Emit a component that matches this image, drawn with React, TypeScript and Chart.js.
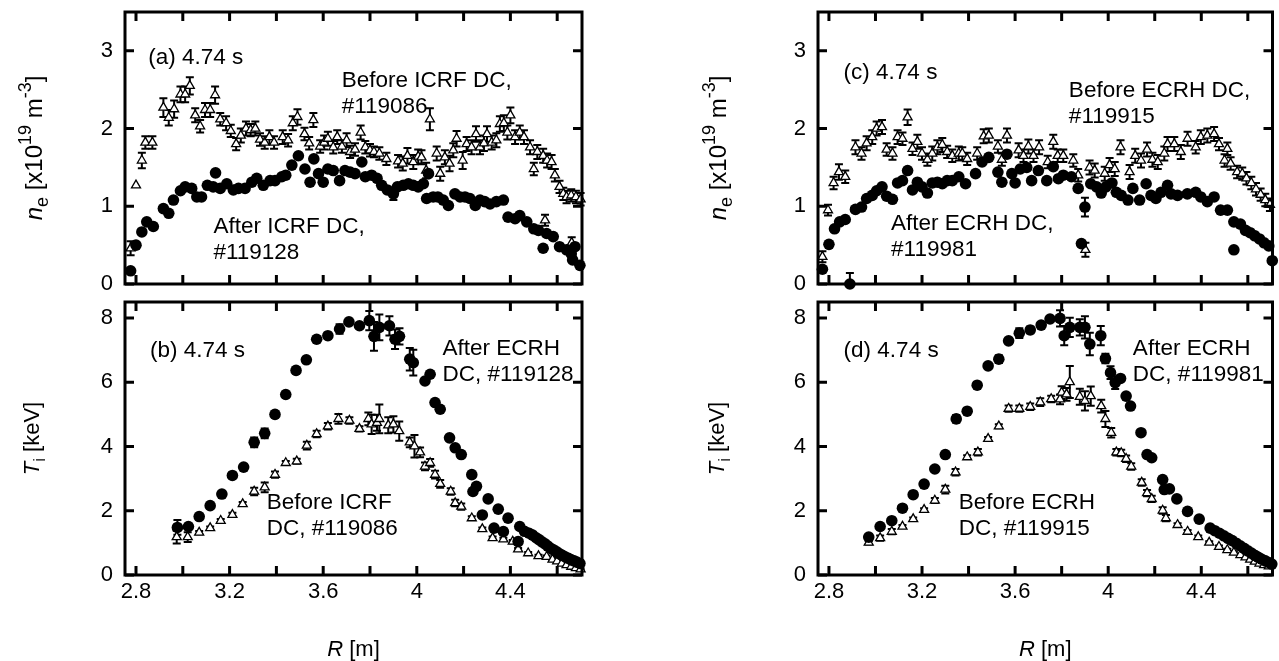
import React, { useEffect, useRef } from 'react';
import { Chart, registerables } from 'chart.js';

Chart.register(...registerables);

const FONT = '"Liberation Sans", Arial, Helvetica, sans-serif';

// ---------- axes ----------
const R_MIN = 2.753;
const R_MAX = 4.706;
const R_TICKS = [2.8, 3.0, 3.2, 3.4, 3.6, 3.8, 4.0, 4.2, 4.4, 4.6];
const R_TICK_LABELS = ['2.8', '', '3.2', '', '3.6', '', '4', '', '4.4', ''];
const NE_MAX = 3.5;
const NE_TICKS = [0, 1, 2, 3];
const NE_TICK_LABELS = ['0', '1', '2', '3'];
const TI_MAX = 8.5;
const TI_TICKS = [0, 2, 4, 6, 8];
const TI_TICK_LABELS = ['0', '2', '4', '6', '8'];

// ---------- data: [R (m), value, error] ----------
// (a) n_e, before ICRF DC #119086 (open triangles)
const A_BEFORE: number[][] = [
  [2.777, 0.46, 0.09], [2.8, 1.27, 0], [2.825, 1.59, 0.1], [2.84, 1.82, 0.08], [2.87, 1.82, 0.08],
  [2.917, 2.27, 0.12], [2.94, 2.14, 0.1], [2.963, 2.25, 0.11], [2.99, 2.44, 0.1], [3.01, 2.44, 0.1],
  [3.03, 2.55, 0.11], [3.053, 2.17, 0.09], [3.074, 2.03, 0.08], [3.095, 2.24, 0.09], [3.117, 2.24, 0.09],
  [3.138, 2.43, 0.11], [3.16, 2.12, 0.08], [3.185, 2.07, 0.09], [3.205, 1.97, 0.08], [3.228, 1.8, 0.08],
  [3.248, 1.91, 0.09], [3.27, 2.0, 0.09], [3.29, 1.98, 0.08], [3.31, 2.0, 0.09], [3.33, 1.86, 0.08],
  [3.35, 1.82, 0.08], [3.37, 1.89, 0.09], [3.39, 1.82, 0.08], [3.427, 1.89, 0.09], [3.45, 1.85, 0.08],
  [3.47, 2.07, 0.09], [3.49, 2.15, 0.1], [3.52, 1.93, 0.08], [3.54, 1.81, 0.08], [3.558, 2.11, 0.09],
  [3.587, 1.77, 0.08], [3.604, 1.82, 0.09], [3.62, 1.87, 0.09], [3.643, 1.76, 0.08], [3.66, 1.89, 0.09],
  [3.68, 1.77, 0.08], [3.7, 1.85, 0.09], [3.715, 1.7, 0.08], [3.736, 1.73, 0.08], [3.76, 1.95, 0.09],
  [3.78, 1.76, 0.08], [3.8, 1.72, 0.08], [3.817, 1.7, 0.07], [3.84, 1.68, 0.08], [3.87, 1.61, 0.08],
  [3.92, 1.58, 0.08], [3.94, 1.55, 0.09], [3.96, 1.65, 0.1], [3.985, 1.57, 0.09], [4.006, 1.64, 0.09],
  [4.02, 1.63, 0.09], [4.04, 1.46, 0.1], [4.056, 2.12, 0.14], [4.085, 1.68, 0.09], [4.1, 1.42, 0.09],
  [4.12, 1.63, 0.09], [4.14, 1.55, 0.1], [4.156, 1.72, 0.09], [4.17, 1.87, 0.1], [4.196, 1.59, 0.11],
  [4.213, 1.8, 0.09], [4.234, 1.76, 0.09], [4.253, 1.93, 0.1], [4.27, 1.76, 0.09], [4.287, 1.81, 0.1],
  [4.3, 1.93, 0.1], [4.32, 1.82, 0.09], [4.34, 1.85, 0.09], [4.355, 2.06, 0.1], [4.372, 2.07, 0.1],
  [4.387, 1.95, 0.09], [4.4, 2.17, 0.1], [4.42, 1.89, 0.09], [4.44, 1.95, 0.09], [4.458, 1.89, 0.09],
  [4.484, 1.76, 0.09], [4.5, 1.48, 0.08], [4.515, 1.7, 0.09], [4.54, 1.65, 0.09], [4.548, 0.82, 0.07],
  [4.557, 1.59, 0.09], [4.576, 1.57, 0.09], [4.59, 1.4, 0.08], [4.61, 1.25, 0.08], [4.626, 1.16, 0.08],
  [4.64, 1.12, 0.08], [4.66, 1.14, 0.08], [4.662, 0.53, 0.07], [4.68, 1.12, 0.08], [4.7, 1.09, 0.08],
];
// (a) n_e, after ICRF DC #119128 (filled circles)
const A_AFTER: number[][] = [
  [2.777, 0.17, 0], [2.8, 0.5, 0], [2.825, 0.67, 0], [2.846, 0.8, 0], [2.874, 0.74, 0],
  [2.917, 0.97, 0], [2.94, 0.91, 0], [2.96, 1.08, 0], [2.99, 1.2, 0], [3.01, 1.25, 0],
  [3.038, 1.23, 0], [3.06, 1.12, 0], [3.08, 1.12, 0], [3.105, 1.27, 0], [3.13, 1.25, 0],
  [3.14, 1.43, 0], [3.16, 1.23, 0], [3.188, 1.29, 0], [3.216, 1.21, 0], [3.238, 1.23, 0],
  [3.266, 1.23, 0], [3.295, 1.31, 0], [3.316, 1.36, 0], [3.344, 1.27, 0], [3.373, 1.33, 0],
  [3.394, 1.33, 0], [3.423, 1.38, 0], [3.44, 1.4, 0], [3.466, 1.53, 0], [3.494, 1.65, 0],
  [3.522, 1.48, 0], [3.544, 1.31, 0], [3.56, 1.61, 0], [3.58, 1.42, 0], [3.6, 1.31, 0],
  [3.62, 1.48, 0], [3.643, 1.46, 0], [3.67, 1.33, 0], [3.693, 1.46, 0], [3.715, 1.44, 0],
  [3.736, 1.42, 0], [3.765, 1.57, 0], [3.78, 1.38, 0], [3.807, 1.4, 0], [3.83, 1.36, 0],
  [3.85, 1.27, 0], [3.874, 1.21, 0], [3.9, 1.16, 0.08], [3.917, 1.25, 0], [3.942, 1.27, 0],
  [3.964, 1.29, 0], [3.985, 1.27, 0], [4.006, 1.25, 0], [4.028, 1.29, 0], [4.042, 1.1, 0],
  [4.05, 1.42, 0], [4.07, 1.12, 0], [4.09, 1.12, 0], [4.113, 1.08, 0], [4.135, 1.01, 0],
  [4.163, 1.16, 0], [4.185, 1.12, 0], [4.206, 1.12, 0], [4.227, 1.1, 0], [4.25, 1.01, 0],
  [4.27, 1.08, 0], [4.29, 1.06, 0], [4.313, 1.03, 0], [4.34, 1.06, 0], [4.37, 1.08, 0],
  [4.39, 0.86, 0], [4.42, 0.84, 0], [4.44, 0.88, 0], [4.47, 0.8, 0], [4.5, 0.71, 0],
  [4.52, 0.69, 0], [4.54, 0.46, 0], [4.555, 0.65, 0], [4.583, 0.61, 0], [4.61, 0.48, 0],
  [4.64, 0.44, 0], [4.66, 0.39, 0], [4.666, 0.31, 0], [4.676, 0.48, 0], [4.697, 0.24, 0],
];
// (b) T_i, before ICRF DC #119086 (open triangles)
const B_BEFORE: number[][] = [
  [2.974, 1.18, 0.2], [3.021, 1.18, 0.15], [3.07, 1.32, 0.05], [3.117, 1.46, 0.05], [3.162, 1.69, 0.05],
  [3.212, 1.875, 0.06], [3.256, 2.21, 0.06], [3.305, 2.6, 0.12], [3.35, 2.73, 0.15], [3.394, 3.125, 0.1],
  [3.44, 3.49, 0.06], [3.487, 3.54, 0.08], [3.53, 4.03, 0.12], [3.572, 4.39, 0.1], [3.62, 4.63, 0.1],
  [3.665, 4.86, 0.15], [3.712, 4.81, 0.1], [3.755, 4.55, 0.08], [3.793, 4.86, 0.2], [3.807, 4.69, 0.3],
  [3.83, 4.74, 0.25], [3.84, 4.86, 0.45], [3.878, 4.66, 0.25], [3.9, 4.69, 0.25], [3.925, 4.48, 0.3],
  [3.97, 4.13, 0.15], [3.99, 4.01, 0.35], [4.014, 3.82, 0.15], [4.035, 3.38, 0.12], [4.057, 3.49, 0.12],
  [4.078, 3.125, 0.12], [4.1, 2.84, 0.12], [4.145, 2.6, 0.1], [4.164, 2.24, 0.1], [4.19, 2.13, 0.1],
  [4.235, 1.77, 0.06], [4.28, 1.43, 0.05], [4.324, 1.15, 0.05], [4.37, 1.11, 0.05], [4.41, 1.04, 0.05],
  [4.433, 0.8, 0.04], [4.476, 0.68, 0.04], [4.52, 0.59, 0.04], [4.555, 0.57, 0.04], [4.58, 0.48, 0.04],
  [4.6, 0.43, 0.03], [4.62, 0.36, 0.03], [4.64, 0.31, 0.03], [4.66, 0.26, 0.03], [4.68, 0.22, 0.03],
  [4.7, 0.18, 0.03],
];
// (b) T_i, after ECRH DC #119128 (filled circles)
const B_AFTER: number[][] = [
  [2.977, 1.48, 0.23], [3.024, 1.51, 0], [3.07, 1.82, 0], [3.117, 2.16, 0], [3.167, 2.52, 0],
  [3.212, 3.1, 0], [3.26, 3.36, 0], [3.305, 4.13, 0.15], [3.35, 4.41, 0.15], [3.394, 5.0, 0],
  [3.44, 5.62, 0], [3.484, 6.37, 0], [3.528, 6.7, 0], [3.572, 7.34, 0], [3.62, 7.45, 0],
  [3.67, 7.66, 0.15], [3.71, 7.88, 0], [3.755, 7.76, 0], [3.797, 7.92, 0.3], [3.817, 7.43, 0.45],
  [3.84, 7.71, 0.4], [3.883, 7.76, 0.3], [3.907, 7.34, 0.3], [3.926, 7.43, 0.25], [3.97, 6.72, 0.35],
  [3.985, 6.61, 0.4], [4.035, 6.04, 0], [4.057, 6.25, 0], [4.078, 5.37, 0], [4.1, 5.16, 0],
  [4.14, 4.27, 0], [4.164, 3.96, 0], [4.19, 3.75, 0], [4.235, 3.125, 0], [4.24, 2.6, 0],
  [4.255, 2.76, 0], [4.28, 1.87, 0], [4.305, 2.37, 0], [4.33, 1.46, 0], [4.348, 2.05, 0],
  [4.37, 1.35, 0], [4.39, 1.77, 0], [4.433, 1.04, 0], [4.44, 1.51, 0], [4.46, 1.36, 0],
  [4.48, 1.3, 0], [4.495, 1.24, 0], [4.51, 1.16, 0], [4.522, 1.1, 0], [4.535, 1.03, 0],
  [4.548, 0.97, 0], [4.56, 0.9, 0], [4.572, 0.83, 0], [4.585, 0.78, 0], [4.598, 0.72, 0],
  [4.61, 0.66, 0], [4.622, 0.61, 0], [4.635, 0.56, 0], [4.648, 0.52, 0], [4.66, 0.47, 0],
  [4.672, 0.44, 0], [4.684, 0.4, 0], [4.697, 0.36, 0],
];
// (c) n_e, before ECRH DC #119915 (open triangles)
const C_BEFORE: number[][] = [
  [2.772, 0.35, 0.07], [2.796, 0.95, 0.07], [2.82, 1.3, 0.08], [2.843, 1.44, 0.1], [2.87, 1.38, 0.08],
  [2.914, 1.76, 0.09], [2.94, 1.68, 0.08], [2.962, 1.81, 0.09], [2.986, 1.89, 0.09], [3.005, 2.0, 0.09],
  [3.028, 2.02, 0.09], [3.048, 1.73, 0.08], [3.073, 1.68, 0.08], [3.095, 1.89, 0.09], [3.116, 1.87, 0.08],
  [3.138, 2.145, 0.1], [3.159, 1.74, 0.08], [3.18, 1.83, 0.09], [3.2, 1.68, 0.08], [3.223, 1.6, 0.08],
  [3.244, 1.68, 0.09], [3.266, 1.76, 0.09], [3.287, 1.79, 0.09], [3.308, 1.7, 0.08], [3.33, 1.65, 0.08],
  [3.358, 1.68, 0.09], [3.373, 1.68, 0.08], [3.394, 1.61, 0.08], [3.437, 1.68, 0.08], [3.465, 1.9, 0.09],
  [3.487, 1.91, 0.09], [3.526, 1.77, 0.08], [3.543, 1.6, 0.08], [3.565, 1.91, 0.09], [3.615, 1.72, 0.09],
  [3.636, 1.65, 0.08], [3.657, 1.77, 0.09], [3.679, 1.65, 0.08], [3.703, 1.76, 0.09], [3.74, 1.57, 0.08],
  [3.764, 1.83, 0.09], [3.783, 1.65, 0.08], [3.807, 1.65, 0.08], [3.85, 1.59, 0.08], [3.871, 1.4, 0.08],
  [3.902, 0.44, 0.09], [3.92, 1.5, 0.09], [3.942, 1.46, 0.09], [3.985, 1.42, 0.09], [4.006, 1.53, 0.09],
  [4.028, 1.48, 0.09], [4.053, 1.76, 0.09], [4.092, 1.44, 0.09], [4.116, 1.65, 0.09], [4.141, 1.59, 0.09],
  [4.167, 1.73, 0.09], [4.19, 1.6, 0.09], [4.213, 1.57, 0.09], [4.241, 1.68, 0.09], [4.255, 1.8, 0.09],
  [4.284, 1.8, 0.09], [4.312, 1.7, 0.09], [4.341, 1.87, 0.09], [4.376, 1.76, 0.08], [4.398, 1.89, 0.09],
  [4.426, 1.91, 0.09], [4.455, 1.93, 0.09], [4.476, 1.8, 0.08], [4.5, 1.59, 0.08], [4.512, 1.74, 0.08],
  [4.526, 1.55, 0.08], [4.554, 1.44, 0.08], [4.576, 1.42, 0.08], [4.594, 1.36, 0.08], [4.615, 1.3, 0.08],
  [4.635, 1.22, 0.08], [4.655, 1.15, 0.08], [4.675, 1.08, 0.08], [4.695, 1.02, 0.08],
];
// (c) n_e, after ECRH DC #119981 (filled circles)
const C_AFTER: number[][] = [
  [2.772, 0.19, 0], [2.8, 0.51, 0], [2.824, 0.71, 0], [2.846, 0.8, 0], [2.87, 0.83, 0],
  [2.89, 0.0, 0.14], [2.914, 0.96, 0], [2.94, 0.99, 0], [2.962, 1.1, 0], [2.986, 1.14, 0],
  [3.005, 1.2, 0], [3.028, 1.25, 0], [3.048, 1.13, 0], [3.073, 1.09, 0], [3.095, 1.3, 0],
  [3.116, 1.33, 0], [3.138, 1.46, 0], [3.159, 1.21, 0], [3.18, 1.31, 0], [3.2, 1.25, 0],
  [3.223, 1.17, 0], [3.244, 1.3, 0], [3.266, 1.31, 0], [3.287, 1.29, 0], [3.308, 1.33, 0],
  [3.33, 1.33, 0], [3.358, 1.38, 0], [3.387, 1.29, 0], [3.43, 1.42, 0], [3.458, 1.57, 0],
  [3.487, 1.63, 0], [3.526, 1.44, 0], [3.543, 1.31, 0], [3.565, 1.67, 0], [3.586, 1.42, 0],
  [3.6, 1.3, 0], [3.622, 1.48, 0], [3.65, 1.5, 0], [3.671, 1.33, 0], [3.7, 1.46, 0],
  [3.736, 1.33, 0], [3.764, 1.51, 0], [3.786, 1.355, 0], [3.807, 1.4, 0], [3.842, 1.38, 0],
  [3.871, 1.23, 0], [3.885, 0.52, 0], [3.9, 0.99, 0.12], [3.925, 1.29, 0], [3.95, 1.25, 0],
  [3.97, 1.17, 0], [3.99, 1.25, 0], [4.016, 1.3, 0], [4.035, 1.18, 0], [4.056, 1.14, 0],
  [4.085, 1.08, 0], [4.106, 1.23, 0], [4.135, 1.08, 0], [4.163, 1.29, 0], [4.184, 1.14, 0],
  [4.205, 1.1, 0], [4.227, 1.18, 0], [4.255, 1.27, 0], [4.27, 1.16, 0], [4.298, 1.14, 0],
  [4.34, 1.16, 0], [4.376, 1.18, 0], [4.398, 1.12, 0], [4.426, 1.06, 0], [4.455, 1.12, 0],
  [4.483, 0.95, 0], [4.512, 0.95, 0], [4.54, 0.8, 0], [4.54, 0.44, 0], [4.568, 0.77, 0],
  [4.59, 0.69, 0], [4.61, 0.66, 0], [4.63, 0.62, 0], [4.65, 0.58, 0], [4.67, 0.53, 0],
  [4.69, 0.49, 0], [4.705, 0.3, 0],
];
// (d) T_i, before ECRH DC #119915 (open triangles)
const D_BEFORE: number[][] = [
  [2.971, 1.01, 0.06], [3.02, 1.15, 0.08], [3.07, 1.35, 0.08], [3.116, 1.51, 0.05], [3.162, 1.74, 0.05],
  [3.209, 2.03, 0.05], [3.255, 2.32, 0.08], [3.3, 2.66, 0.12], [3.344, 3.2, 0.1], [3.394, 3.67, 0.06],
  [3.44, 3.82, 0.1], [3.484, 4.24, 0.06], [3.53, 4.63, 0.06], [3.572, 5.18, 0.1], [3.618, 5.18, 0.1],
  [3.665, 5.24, 0.1], [3.708, 5.38, 0.12], [3.755, 5.48, 0.1], [3.793, 5.47, 0.15], [3.8, 5.68, 0.2],
  [3.821, 5.625, 0.2], [3.835, 6.01, 0.5], [3.878, 5.55, 0.25], [3.9, 5.42, 0.3], [3.925, 5.57, 0.3],
  [3.97, 5.26, 0.2], [3.988, 4.86, 0.25], [4.013, 4.43, 0.15], [4.035, 3.82, 0.1], [4.056, 3.8, 0.1],
  [4.077, 3.62, 0.1], [4.099, 3.38, 0.1], [4.144, 2.88, 0.1], [4.167, 2.55, 0.1], [4.187, 2.37, 0.1],
  [4.234, 2.01, 0.1], [4.248, 1.77, 0.1], [4.298, 1.56, 0.05], [4.341, 1.35, 0.05], [4.387, 1.18, 0.05],
  [4.434, 1.01, 0.04], [4.476, 0.88, 0.04], [4.512, 0.78, 0.04], [4.54, 0.7, 0.04], [4.568, 0.625, 0.04],
  [4.59, 0.55, 0.03], [4.61, 0.48, 0.03], [4.63, 0.42, 0.03], [4.65, 0.36, 0.03], [4.67, 0.31, 0.03],
  [4.69, 0.27, 0.03],
];
// (d) T_i, after ECRH DC #119981 (filled circles)
const D_AFTER: number[][] = [
  [2.971, 1.18, 0], [3.02, 1.51, 0], [3.07, 1.69, 0], [3.116, 2.08, 0], [3.162, 2.5, 0],
  [3.209, 2.83, 0], [3.255, 3.3, 0], [3.3, 3.75, 0], [3.347, 4.86, 0.12], [3.394, 5.1, 0],
  [3.437, 5.91, 0], [3.484, 6.51, 0], [3.53, 6.72, 0.12], [3.572, 7.29, 0], [3.618, 7.53, 0.15],
  [3.665, 7.63, 0.1], [3.712, 7.78, 0], [3.75, 7.97, 0], [3.793, 7.99, 0.25], [3.811, 7.45, 0.3],
  [3.835, 7.71, 0.3], [3.878, 7.71, 0.25], [3.9, 7.71, 0.35], [3.921, 7.19, 0.35], [3.968, 7.45, 0.3],
  [3.988, 6.74, 0.15], [4.01, 6.3, 0.2], [4.03, 5.99, 0.2], [4.053, 6.12, 0], [4.077, 5.57, 0],
  [4.096, 5.26, 0], [4.141, 4.43, 0], [4.167, 3.75, 0], [4.187, 3.65, 0], [4.234, 2.97, 0],
  [4.241, 2.66, 0], [4.263, 2.68, 0], [4.295, 2.37, 0], [4.341, 1.98, 0], [4.391, 1.74, 0],
  [4.438, 1.46, 0], [4.458, 1.38, 0], [4.478, 1.3, 0], [4.497, 1.22, 0], [4.515, 1.14, 0],
  [4.533, 1.07, 0], [4.55, 0.99, 0], [4.567, 0.91, 0], [4.584, 0.83, 0], [4.6, 0.75, 0],
  [4.615, 0.68, 0], [4.63, 0.61, 0], [4.645, 0.55, 0], [4.66, 0.49, 0], [4.675, 0.44, 0],
  [4.69, 0.39, 0], [4.703, 0.34, 0],
];

// ---------- text ----------
type Seg = { t: string; s?: 'i' | 'sub' | 'sup' };
const NE_TITLE: Seg[] = [
  { t: 'n', s: 'i' }, { t: 'e', s: 'sub' }, { t: ' [x10' }, { t: '19', s: 'sup' },
  { t: ' m' }, { t: '-3', s: 'sup' }, { t: ']' },
];
const TI_TITLE: Seg[] = [{ t: 'T', s: 'i' }, { t: 'i', s: 'sub' }, { t: ' [keV]' }];
const R_TITLE: Seg[] = [{ t: 'R', s: 'i' }, { t: ' [m]' }];

type Note = { x: number; y: number; lines: string[] };
const NOTES_A: Note[] = [
  { x: 2.852, y: 2.91, lines: ['(a) 4.74 s'] },
  { x: 3.679, y: 2.615, lines: ['Before ICRF DC,', '#119086'] },
  { x: 3.131, y: 0.73, lines: ['After ICRF DC,', '#119128'] },
];
const NOTES_B: Note[] = [
  { x: 2.86, y: 6.98, lines: ['(b) 4.74 s'] },
  { x: 4.11, y: 7.03, lines: ['After ECRH', 'DC, #119128'] },
  { x: 3.359, y: 2.24, lines: ['Before ICRF', 'DC, #119086'] },
];
const NOTES_C: Note[] = [
  { x: 2.863, y: 2.72, lines: ['(c) 4.74 s'] },
  { x: 3.831, y: 2.49, lines: ['Before ECRH DC,', '#119915'] },
  { x: 3.067, y: 0.78, lines: ['After ECRH DC,', '#119981'] },
];
const NOTES_D: Note[] = [
  { x: 2.863, y: 6.98, lines: ['(d) 4.74 s'] },
  { x: 4.106, y: 7.05, lines: ['After ECRH', 'DC, #119981'] },
  { x: 3.358, y: 2.25, lines: ['Before ECRH', 'DC, #119915'] },
];

// ---------- layout ----------
const TICK_FONT = 22;
const NOTE_FONT = 22.5;
const NOTE_LINE = 26;

type PanelDef = {
  key: string;
  left: number; top: number; width: number; height: number;
  area: { l: number; t: number; r: number; b: number };
  yMax: number; yTicks: number[]; yLabels: string[];
  yTitle: Seg[]; yTitleX: number; yTitleSize: number;
  showX: boolean; xTitleY: number | null;
  after: number[][]; before: number[][];
  notes: Note[];
};

const PANELS: PanelDef[] = [
  {
    key: 'a', left: 0, top: 0, width: 600, height: 293,
    area: { l: 125, t: 12, r: 582, b: 284 },
    yMax: NE_MAX, yTicks: NE_TICKS, yLabels: NE_TICK_LABELS, yTitle: NE_TITLE, yTitleX: 35, yTitleSize: 24,
    showX: false, xTitleY: null, after: A_AFTER, before: A_BEFORE, notes: NOTES_A,
  },
  {
    key: 'b', left: 0, top: 293, width: 600, height: 368,
    area: { l: 125, t: 9, r: 582, b: 282 },
    yMax: TI_MAX, yTicks: TI_TICKS, yLabels: TI_TICK_LABELS, yTitle: TI_TITLE, yTitleX: 33, yTitleSize: 22,
    showX: true, xTitleY: 357, after: B_AFTER, before: B_BEFORE, notes: NOTES_B,
  },
  {
    key: 'c', left: 640, top: 0, width: 639, height: 293,
    area: { l: 178, t: 12, r: 635, b: 284 },
    yMax: NE_MAX, yTicks: NE_TICKS, yLabels: NE_TICK_LABELS, yTitle: NE_TITLE, yTitleX: 79, yTitleSize: 24,
    showX: false, xTitleY: null, after: C_AFTER, before: C_BEFORE, notes: NOTES_C,
  },
  {
    key: 'd', left: 640, top: 293, width: 639, height: 368,
    area: { l: 178, t: 9, r: 635, b: 282 },
    yMax: TI_MAX, yTicks: TI_TICKS, yLabels: TI_TICK_LABELS, yTitle: TI_TITLE, yTitleX: 78, yTitleSize: 22,
    showX: true, xTitleY: 357, after: D_AFTER, before: D_BEFORE, notes: NOTES_D,
  },
];

function drawRich(ctx: CanvasRenderingContext2D, segs: Seg[], cx: number, cy: number, size: number, rotate: boolean) {
  ctx.save();
  ctx.translate(cx, cy);
  if (rotate) ctx.rotate(-Math.PI / 2);
  ctx.textBaseline = 'middle';
  ctx.textAlign = 'left';
  ctx.fillStyle = '#000';
  const small = Math.round(size * 0.75);
  const fontOf = (s?: string) =>
    s === 'i' ? `italic ${size}px ${FONT}` : s === 'sub' || s === 'sup' ? `${small}px ${FONT}` : `${size}px ${FONT}`;
  let total = 0;
  const ws = segs.map((g) => {
    ctx.font = fontOf(g.s);
    const w = ctx.measureText(g.t).width;
    total += w;
    return w;
  });
  let x = -total / 2;
  segs.forEach((g, i) => {
    ctx.font = fontOf(g.s);
    const dy = g.s === 'sub' ? size * 0.32 : g.s === 'sup' ? -size * 0.38 : 0;
    ctx.fillText(g.t, x, dy);
    x += ws[i];
  });
  ctx.restore();
}

function makeDecor(def: PanelDef) {
  return {
    id: 'decor_' + def.key,
    beforeDatasetsDraw(chart: any) {
      const ctx: CanvasRenderingContext2D = chart.ctx;
      const xs = chart.scales.x;
      const ys = chart.scales.y;
      const ca = chart.chartArea;
      ctx.save();
      ctx.beginPath();
      ctx.rect(ca.left - 10, ca.top - 10, ca.right - ca.left + 20, ca.bottom - ca.top + 10);
      ctx.clip();
      ctx.strokeStyle = '#000';
      ctx.lineWidth = 2;
      chart.data.datasets.forEach((ds: any) => {
        const errs: number[] = ds.errs || [];
        ds.data.forEach((p: any, i: number) => {
          const e = errs[i];
          if (!e) return;
          const px = xs.getPixelForValue(p.x);
          const y1 = ys.getPixelForValue(p.y + e);
          const y2 = ys.getPixelForValue(p.y - e);
          ctx.beginPath();
          ctx.moveTo(px, y1);
          ctx.lineTo(px, y2);
          ctx.moveTo(px - 4, y1);
          ctx.lineTo(px + 4, y1);
          ctx.moveTo(px - 4, y2);
          ctx.lineTo(px + 4, y2);
          ctx.stroke();
        });
      });
      ctx.restore();
    },
    afterDraw(chart: any) {
      const ctx: CanvasRenderingContext2D = chart.ctx;
      const xs = chart.scales.x;
      const ys = chart.scales.y;
      const ca = chart.chartArea;
      ctx.save();
      ctx.strokeStyle = '#000';
      ctx.lineWidth = 3;
      ctx.strokeRect(ca.left, ca.top, ca.right - ca.left, ca.bottom - ca.top);
      const TL = 9;
      ctx.beginPath();
      xs.ticks.forEach((t: any) => {
        const px = xs.getPixelForValue(t.value);
        ctx.moveTo(px, ca.bottom);
        ctx.lineTo(px, ca.bottom - TL);
        ctx.moveTo(px, ca.top);
        ctx.lineTo(px, ca.top + TL);
      });
      ys.ticks.forEach((t: any) => {
        const py = ys.getPixelForValue(t.value);
        ctx.moveTo(ca.left, py);
        ctx.lineTo(ca.left + TL, py);
        ctx.moveTo(ca.right, py);
        ctx.lineTo(ca.right - TL, py);
      });
      ctx.stroke();

      // annotations
      ctx.fillStyle = '#000';
      ctx.font = `${NOTE_FONT}px ${FONT}`;
      ctx.textAlign = 'left';
      ctx.textBaseline = 'middle';
      def.notes.forEach((n) => {
        const px = xs.getPixelForValue(n.x);
        const py = ys.getPixelForValue(n.y);
        n.lines.forEach((line, i) => ctx.fillText(line, px, py + i * NOTE_LINE));
      });
      ctx.restore();

      drawRich(ctx, def.yTitle, def.yTitleX, (ca.top + ca.bottom) / 2, def.yTitleSize, true);
      if (def.xTitleY !== null) {
        drawRich(ctx, R_TITLE, (ca.left + ca.right) / 2, def.xTitleY, 22, false);
      }
    },
  };
}

function Panel({ def }: { def: PanelDef }) {
  const ref = useRef<HTMLCanvasElement | null>(null);
  useEffect(() => {
    const canvas = ref.current;
    if (!canvas) return;
    const chart = new Chart(canvas, {
      type: 'scatter',
      data: {
        datasets: [
          {
            data: def.after.map((r) => ({ x: r[0], y: r[1] })),
            errs: def.after.map((r) => r[2]),
            pointStyle: 'circle',
            pointRadius: 5.8,
            pointHoverRadius: 5.8,
            backgroundColor: '#000',
            borderColor: '#000',
            borderWidth: 0,
            clip: false,
          } as any,
          {
            data: def.before.map((r) => ({ x: r[0], y: r[1] })),
            errs: def.before.map((r) => r[2]),
            pointStyle: 'triangle',
            pointRadius: 5.2,
            pointHoverRadius: 5.2,
            backgroundColor: '#fff',
            borderColor: '#000',
            borderWidth: 1.3,
            clip: false,
          } as any,
        ],
      },
      options: {
        animation: false,
        responsive: false,
        maintainAspectRatio: false,
        devicePixelRatio: 1,
        events: [],
        layout: {
          padding: { left: 0, top: def.area.t, right: def.width - def.area.r, bottom: 0 },
        },
        plugins: { legend: { display: false }, tooltip: { enabled: false }, title: { display: false } },
        scales: {
          x: {
            type: 'linear',
            min: R_MIN,
            max: R_MAX,
            grid: { display: false, drawTicks: false },
            border: { display: false },
            ticks: {
              display: def.showX,
              autoSkip: false,
              maxRotation: 0,
              minRotation: 0,
              padding: 4,
              color: '#000',
              font: { family: FONT, size: TICK_FONT },
              callback: (_v: any, i: number) => R_TICK_LABELS[i] ?? '',
            },
            afterBuildTicks: (axis: any) => {
              axis.ticks = R_TICKS.map((v) => ({ value: v }));
            },
            afterFit: (axis: any) => {
              axis.height = def.height - def.area.b;
              axis.paddingLeft = 0;
              axis.paddingRight = 0;
            },
          },
          y: {
            type: 'linear',
            min: 0,
            max: def.yMax,
            grid: { display: false, drawTicks: false },
            border: { display: false },
            ticks: {
              padding: 12,
              color: '#000',
              font: { family: FONT, size: TICK_FONT },
              callback: (_v: any, i: number) => def.yLabels[i] ?? '',
            },
            afterBuildTicks: (axis: any) => {
              axis.ticks = def.yTicks.map((v) => ({ value: v }));
            },
            afterFit: (axis: any) => {
              axis.width = def.area.l;
              axis.paddingTop = 0;
              axis.paddingBottom = 0;
            },
          },
        },
      } as any,
      plugins: [makeDecor(def)],
    });
    return () => chart.destroy();
  }, [def]);
  return (
    <canvas
      ref={ref}
      width={def.width}
      height={def.height}
      style={{ position: 'absolute', left: def.left, top: def.top, width: def.width, height: def.height, display: 'block' }}
    />
  );
}

export default function App() {
  return (
    <div style={{ position: 'absolute', left: 0, top: 0, width: 1279, height: 661, background: '#fff', overflow: 'hidden' }}>
      {PANELS.map((p) => (
        <Panel key={p.key} def={p} />
      ))}
    </div>
  );
}
